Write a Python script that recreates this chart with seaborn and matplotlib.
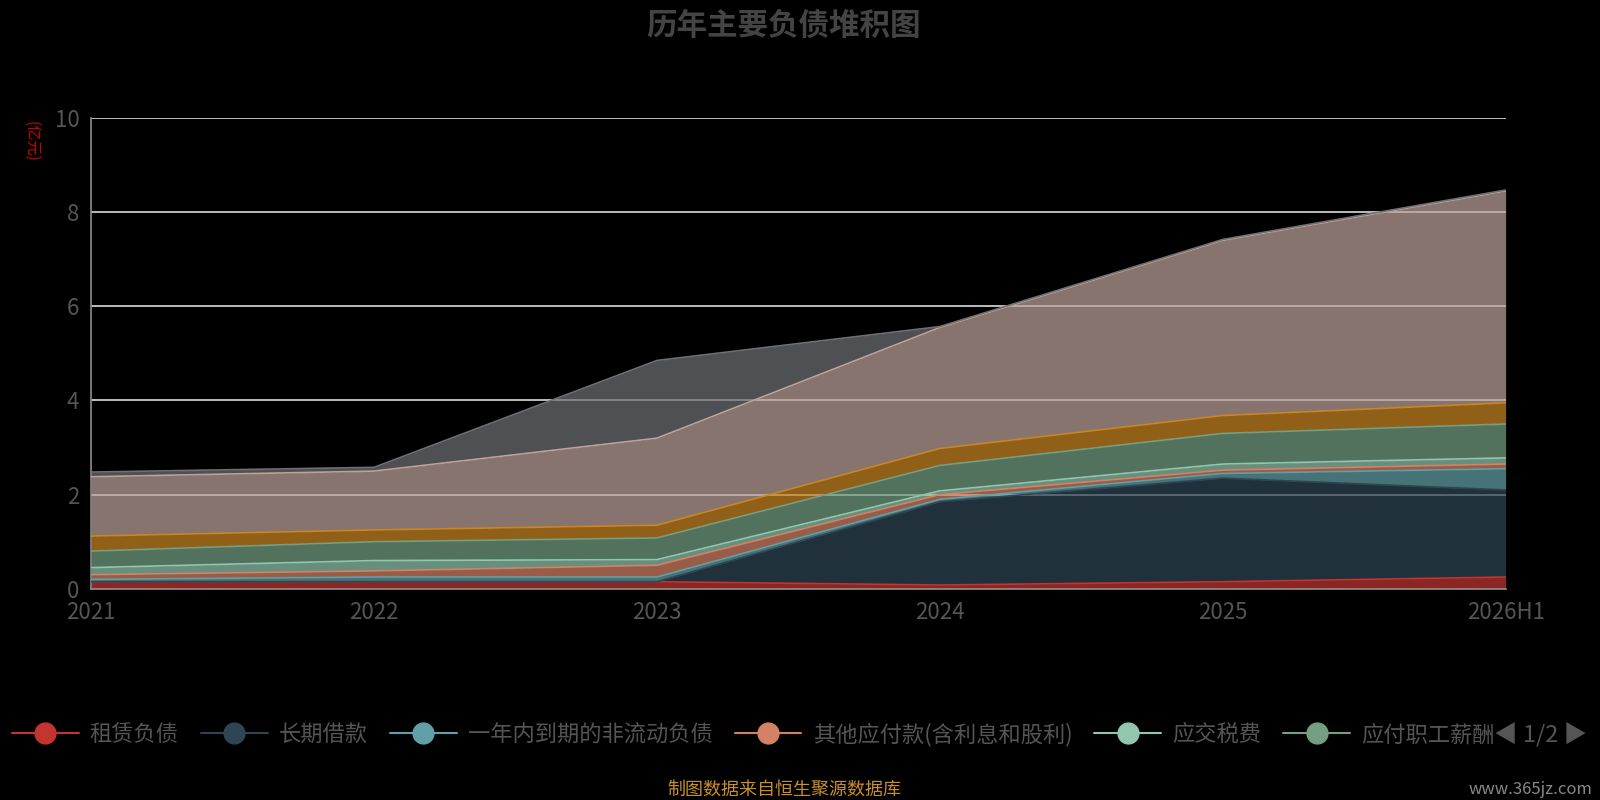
import numpy as np
import matplotlib
matplotlib.use("Agg")
import matplotlib.pyplot as plt
import seaborn as sns
from matplotlib.lines import Line2D

years = ["2021", "2022", "2023", "2024", "2025", "2026H1"]
series_names = ["租赁负债", "长期借款", "一年内到期的非流动负债", "其他应付款(含利息和股利)",
                "应交税费", "应付职工薪酬", "应付账款", "短期借款", "合同负债"]
# 累计值（亿元），读图估计
cum = [
    [0.15, 0.15, 0.15, 0.08, 0.15, 0.25],
    [0.15, 0.15, 0.15, 1.85, 2.35, 2.10],
    [0.20, 0.25, 0.25, 1.90, 2.45, 2.55],
    [0.30, 0.38, 0.50, 2.00, 2.52, 2.65],
    [0.45, 0.60, 0.62, 2.08, 2.65, 2.78],
    [0.80, 1.00, 1.08, 2.62, 3.30, 3.50],
    [1.12, 1.25, 1.35, 2.98, 3.68, 3.95],
    [2.38, 2.50, 3.20, 5.55, 7.40, 8.45],
    [2.48, 2.58, 4.85, 5.57, 7.42, 8.47],
]
colors = ["#c23531", "#2f4554", "#61a0a8", "#d48265", "#91c7ae",
          "#749f83", "#ca8622", "#bda29a", "#6e7074"]

sns.set_theme(style="dark")
plt.rcParams['font.family'] = ['Noto Sans CJK SC', 'DejaVu Sans']

fig = plt.figure(figsize=(16, 8), dpi=100, facecolor="black")
ax = fig.add_axes([0.057, 0.264, 0.884, 0.5885], facecolor="black")
x = np.arange(len(years))
prev = np.zeros(len(years))
for name, c, col in zip(series_names, cum, colors):
    c = np.array(c)
    ax.fill_between(x, prev, c, color=col, alpha=0.72, lw=0, zorder=2)
    ax.plot(x, c, color=col, lw=1.2, zorder=3)
    prev = c

ax.set_xlim(0, len(years) - 1)
ax.set_ylim(0, 10)
ax.set_yticks([0, 2, 4, 6, 8, 10])
ax.set_xticks(x)
ax.set_xticklabels(years)
ax.grid(axis="y", color="#dddddd", lw=1.2, zorder=1)
ax.grid(axis="x", visible=False)
ax.tick_params(colors="#555555", labelsize=16, length=5, color="#888888")
for s in ["top", "right"]:
    ax.spines[s].set_visible(False)
for s in ["left", "bottom"]:
    ax.spines[s].set_color("#888888")
ax.text(-0.042, 0.95, "(亿元)", transform=ax.transAxes, rotation=-90,
        color="#cc0000", fontsize=11, ha="center", va="center")

fig.text(0.49, 0.968, "历年主要负债堆积图", ha="center", va="center",
         fontsize=22, fontweight="bold", color="#444444")

handles = [Line2D([0], [0], color=col, marker="o", markersize=15, lw=1.5)
           for col in colors[:6]]
leg = fig.legend(handles, series_names[:6], loc="center left", bbox_to_anchor=(-0.005, 0.082),
                 ncol=6, frameon=False, fontsize=16, handlelength=3.0,
                 columnspacing=1.0, handletextpad=0.5)
for t in leg.get_texts():
    t.set_color("#555555")
fig.text(0.963, 0.082, "◀ 1/2 ▶", ha="center", va="center", fontsize=17, color="#555555")
fig.text(0.49, 0.013, "制图数据来自恒生聚源数据库", ha="center", va="center",
         fontsize=13, color="#c8902a")
fig.text(0.995, 0.013, "www.365jz.com", ha="right", va="center",
         fontsize=12, color="#888888")

fig.savefig("out.png", dpi=100, facecolor="black")
